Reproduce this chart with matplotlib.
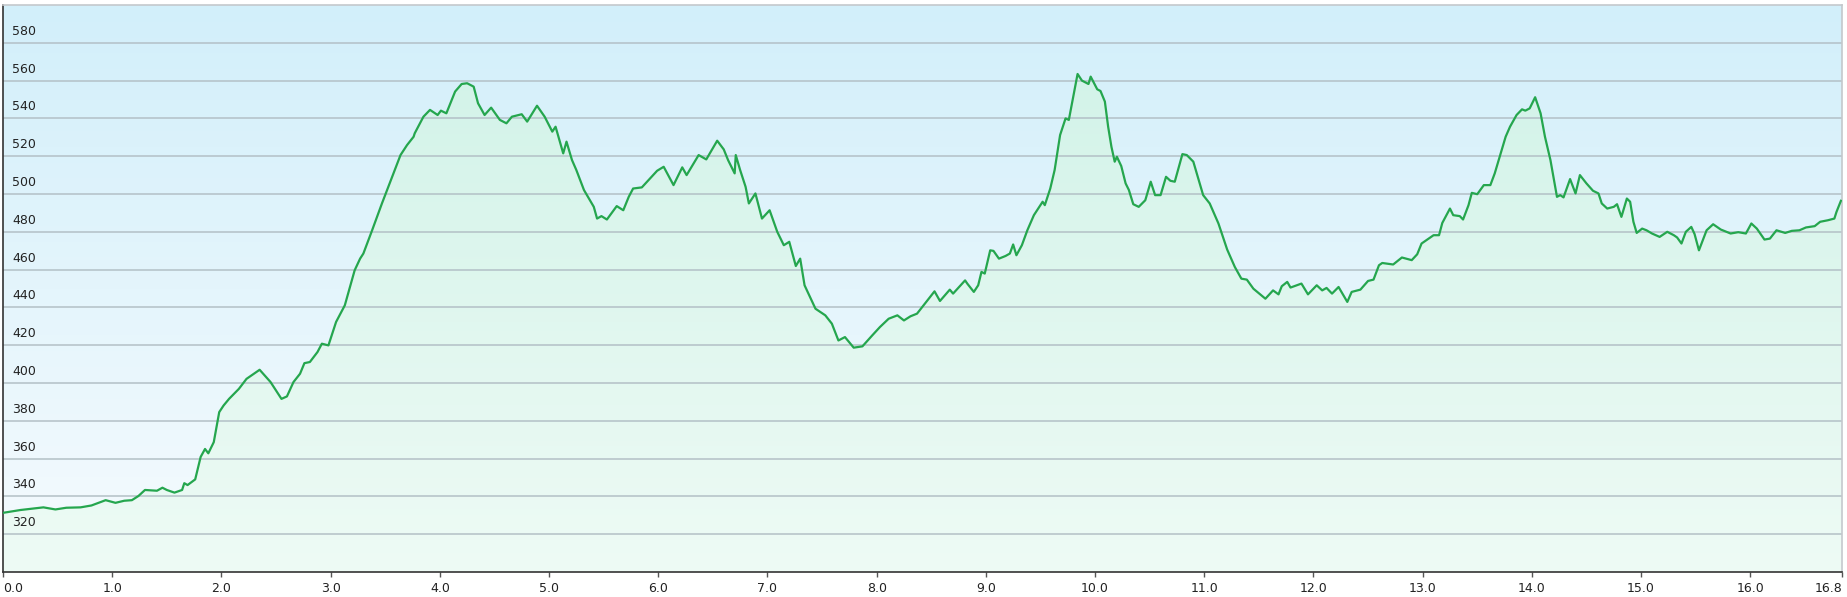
import numpy as np
import matplotlib
matplotlib.use("Agg")
import matplotlib.pyplot as plt
from matplotlib.colors import LinearSegmentedColormap
from matplotlib.transforms import offset_copy

# distance (km) and elevation (m)
dist = [0.00, 0.16, 0.37, 0.48, 0.58, 0.71, 0.81, 0.94, 1.03, 1.11, 1.18, 1.24, 1.30, 1.41,
        1.46, 1.50, 1.57, 1.64, 1.66, 1.69, 1.76, 1.81, 1.85, 1.88, 1.93, 1.98, 2.02, 2.07,
        2.16, 2.23, 2.35, 2.45, 2.55, 2.60, 2.66, 2.72, 2.76, 2.81, 2.88, 2.92, 2.98, 3.05,
        3.13, 3.22, 3.27, 3.30, 3.38, 3.47, 3.54, 3.64, 3.70, 3.76, 3.77, 3.85, 3.91, 3.98,
        4.01, 4.06, 4.14, 4.20, 4.25, 4.31, 4.35, 4.41, 4.47, 4.55, 4.61, 4.66, 4.75, 4.80,
        4.89, 4.96, 5.03, 5.06, 5.13, 5.16, 5.21, 5.25, 5.32, 5.41, 5.44, 5.48, 5.53, 5.62,
        5.68, 5.73, 5.77, 5.85, 5.91, 5.99, 6.05, 6.14, 6.22, 6.26, 6.37, 6.44, 6.54, 6.60,
        6.64, 6.70, 6.71, 6.75, 6.80, 6.83, 6.89, 6.95, 7.02, 7.09, 7.15, 7.20, 7.26, 7.30,
        7.34, 7.44, 7.53, 7.59, 7.65, 7.71, 7.79, 7.87, 7.96, 8.03, 8.11, 8.19, 8.25, 8.31,
        8.37, 8.49, 8.53, 8.58, 8.67, 8.70, 8.81, 8.83, 8.89, 8.93, 8.96, 8.99, 9.04, 9.07,
        9.12, 9.18, 9.22, 9.25, 9.28, 9.33, 9.38, 9.44, 9.52, 9.54, 9.59, 9.63, 9.68, 9.73,
        9.76, 9.84, 9.88, 9.94, 9.96, 10.02, 10.05, 10.09, 10.12, 10.15, 10.18, 10.20, 10.24,
        10.28, 10.31, 10.35, 10.40, 10.46, 10.51, 10.55, 10.60, 10.65, 10.69, 10.73, 10.80,
        10.84, 10.90, 10.99, 11.05, 11.13, 11.21, 11.28, 11.34, 11.39, 11.45, 11.56, 11.63,
        11.68, 11.71, 11.76, 11.79, 11.89, 11.95, 12.03, 12.08, 12.12, 12.17, 12.23, 12.31,
        12.35, 12.43, 12.50, 12.55, 12.60, 12.63, 12.73, 12.81, 12.90, 12.95, 12.99, 13.10,
        13.15, 13.18, 13.25, 13.28, 13.34, 13.37, 13.42, 13.45, 13.50, 13.56, 13.62, 13.66,
        13.71, 13.76, 13.80, 13.86, 13.91, 13.94, 13.98, 14.03, 14.08, 14.12, 14.17, 14.23,
        14.26, 14.29, 14.35, 14.40, 14.44, 14.50, 14.56, 14.61, 14.64, 14.69, 14.75, 14.78,
        14.82, 14.87, 14.90, 14.93, 14.96, 15.01, 15.05, 15.10, 15.17, 15.24, 15.30, 15.33,
        15.37, 15.41, 15.46, 15.49, 15.53, 15.56, 15.60, 15.66, 15.73, 15.82, 15.89, 15.96,
        16.01, 16.06, 16.13, 16.18, 16.24, 16.32, 16.38, 16.45, 16.51, 16.59, 16.64, 16.71,
        16.77, 16.79, 16.83]
elev = [331.3, 332.8, 334.2, 333.1, 334.0, 334.2, 335.2, 338.0, 336.6, 337.7, 338.0, 340.2, 343.4, 343.0,
        344.6, 343.4, 342.0, 343.4, 347.0, 346.0, 349.0, 360.9, 365.1, 362.8, 368.7, 384.6, 388.1, 391.6,
        396.9, 402.2, 407.0, 400.5, 391.6, 392.9, 400.5, 404.9, 410.5, 411.1, 416.4, 420.8, 419.9, 432.3,
        441.1, 459.6, 465.8, 468.5, 480.8, 495.0, 505.6, 520.6, 525.9, 530.3, 532.1, 540.9, 544.5, 541.8,
        544.1, 542.7, 554.2, 558.2, 558.6, 556.8, 548.0, 541.8, 545.7, 539.2, 537.4, 540.9, 542.2, 538.3,
        546.7, 540.9, 533.0, 535.6, 521.5, 527.7, 518.0, 512.7, 502.1, 493.2, 487.0, 488.3, 486.5, 493.6,
        491.4, 498.5, 502.9, 503.5, 507.3, 512.3, 514.4, 504.7, 514.1, 510.0, 520.6, 518.3, 528.2, 523.6,
        517.9, 510.9, 520.6, 512.7, 503.8, 495.0, 500.3, 487.0, 491.4, 480.0, 472.9, 474.7, 461.9, 465.8,
        451.7, 439.3, 435.8, 431.4, 422.5, 424.3, 418.7, 419.4, 425.2, 429.6, 434.0, 435.8, 433.1, 435.3,
        436.7, 445.5, 448.5, 443.4, 449.4, 447.3, 454.3, 452.6, 448.2, 451.7, 458.8, 457.9, 470.2, 469.9,
        465.8, 467.2, 468.5, 473.3, 467.6, 472.9, 480.8, 488.8, 495.9, 494.1, 502.9, 512.7, 531.2, 540.0,
        539.2, 563.5, 560.0, 558.2, 562.1, 555.4, 554.5, 548.9, 535.6, 525.0, 517.1, 519.7, 514.8,
        505.6, 502.1, 494.6, 493.2, 496.7, 506.5, 499.4, 499.4, 509.1, 507.0, 506.5, 521.1,
        520.6, 517.1, 499.4, 495.0, 484.4, 470.6, 461.4, 455.2, 454.7, 449.9, 444.6, 449.0,
        446.9, 451.2, 453.5, 450.5, 452.6, 446.9, 451.7, 449.0, 450.3, 447.3, 450.8, 442.9,
        448.2, 449.4, 454.0, 454.7, 462.3, 463.5, 462.7, 466.4, 465.0, 468.1, 473.8, 478.2,
        478.2, 484.7, 492.3, 488.8, 488.3, 486.5, 494.1, 500.6, 499.9, 504.7, 504.7, 510.9,
        520.6, 530.3, 535.6, 541.8, 544.8, 544.1, 545.3, 551.2, 542.7, 530.3, 518.0, 498.5,
        499.4, 498.2, 507.9, 500.3, 510.0, 505.6, 501.7, 500.3, 495.0, 492.3, 493.2, 494.6,
        487.9, 497.6, 495.9, 485.3, 479.4, 481.7, 480.8, 479.1, 477.3, 480.0, 478.2, 477.0,
        473.8, 480.0, 482.6, 478.8, 470.2, 474.7, 480.8, 484.0, 481.2, 479.1, 479.8, 479.1,
        484.4, 481.7, 475.9, 476.4, 480.8, 479.4, 480.5, 480.8, 482.3, 483.0, 485.3, 486.1,
        487.0, 490.6, 496.4]

y_ticks = [320, 340, 360, 380, 400, 420, 440, 460, 480, 500, 520, 540, 560, 580]
x_ticks = list(range(0, 17)) + [16.84]
x_labels = ["%.1f" % t for t in range(0, 17)] + ["16.8"]

X_MAX = 16.84
Y_MIN, Y_MAX = 300, 600

fig = plt.figure(figsize=(18.47, 5.97), dpi=100)
ax = fig.add_axes([3 / 1847, 25 / 597, 1839 / 1847, 567 / 597])
ax.set_xlim(0, X_MAX)
ax.set_ylim(Y_MIN, Y_MAX)

# background gradient (light blue at top -> almost white at bottom)
bg = LinearSegmentedColormap.from_list("bg", ["#f6fbfe", "#d2effa"])
grad = np.linspace(0, 1, 256).reshape(-1, 1)
ax.imshow(grad, cmap=bg, origin="lower", aspect="auto",
          extent=[0, X_MAX, Y_MIN, Y_MAX], zorder=0)

# area under the profile with its own green gradient
poly = ax.fill_between(dist, elev, Y_MIN, facecolor="none", edgecolor="none", zorder=1)
fg = LinearSegmentedColormap.from_list("fg", ["#eefbf5", "#d3f3e9"])
im = ax.imshow(grad, cmap=fg, origin="lower", aspect="auto",
               extent=[0, X_MAX, Y_MIN, 565], zorder=1)
im.set_clip_path(poly.get_paths()[0], transform=ax.transData)

# horizontal grid lines
for yt in y_ticks:
    ax.axhline(yt, color="#b3c0c6", lw=1.1, zorder=2)

ax.plot(dist, elev, color="#25a64e", lw=1.6, zorder=3)

# y labels sit inside the plot, just above each grid line
trans = offset_copy(ax.transData, fig=fig, x=9, y=5, units="dots")
for yt in y_ticks:
    ax.text(0, yt, str(yt), transform=trans, ha="left", va="bottom",
            fontsize=9, color="#222222", zorder=4)

ax.set_yticks([])
ax.set_xticks(x_ticks)
ax.set_xticklabels(x_labels, fontsize=9, color="#222222")
ax.tick_params(axis="x", direction="out", length=3.5, width=1, color="#555555", pad=4)
lbls = ax.get_xticklabels()
lbls[0].set_ha("left")
lbls[-1].set_ha("right")

for side in ["left", "bottom"]:
    ax.spines[side].set_color("#333333")
    ax.spines[side].set_linewidth(1.2)
for side in ["top", "right"]:
    ax.spines[side].set_color("#c4c8cc")
    ax.spines[side].set_linewidth(1.2)

fig.savefig("out.png", dpi=100, facecolor="white")
